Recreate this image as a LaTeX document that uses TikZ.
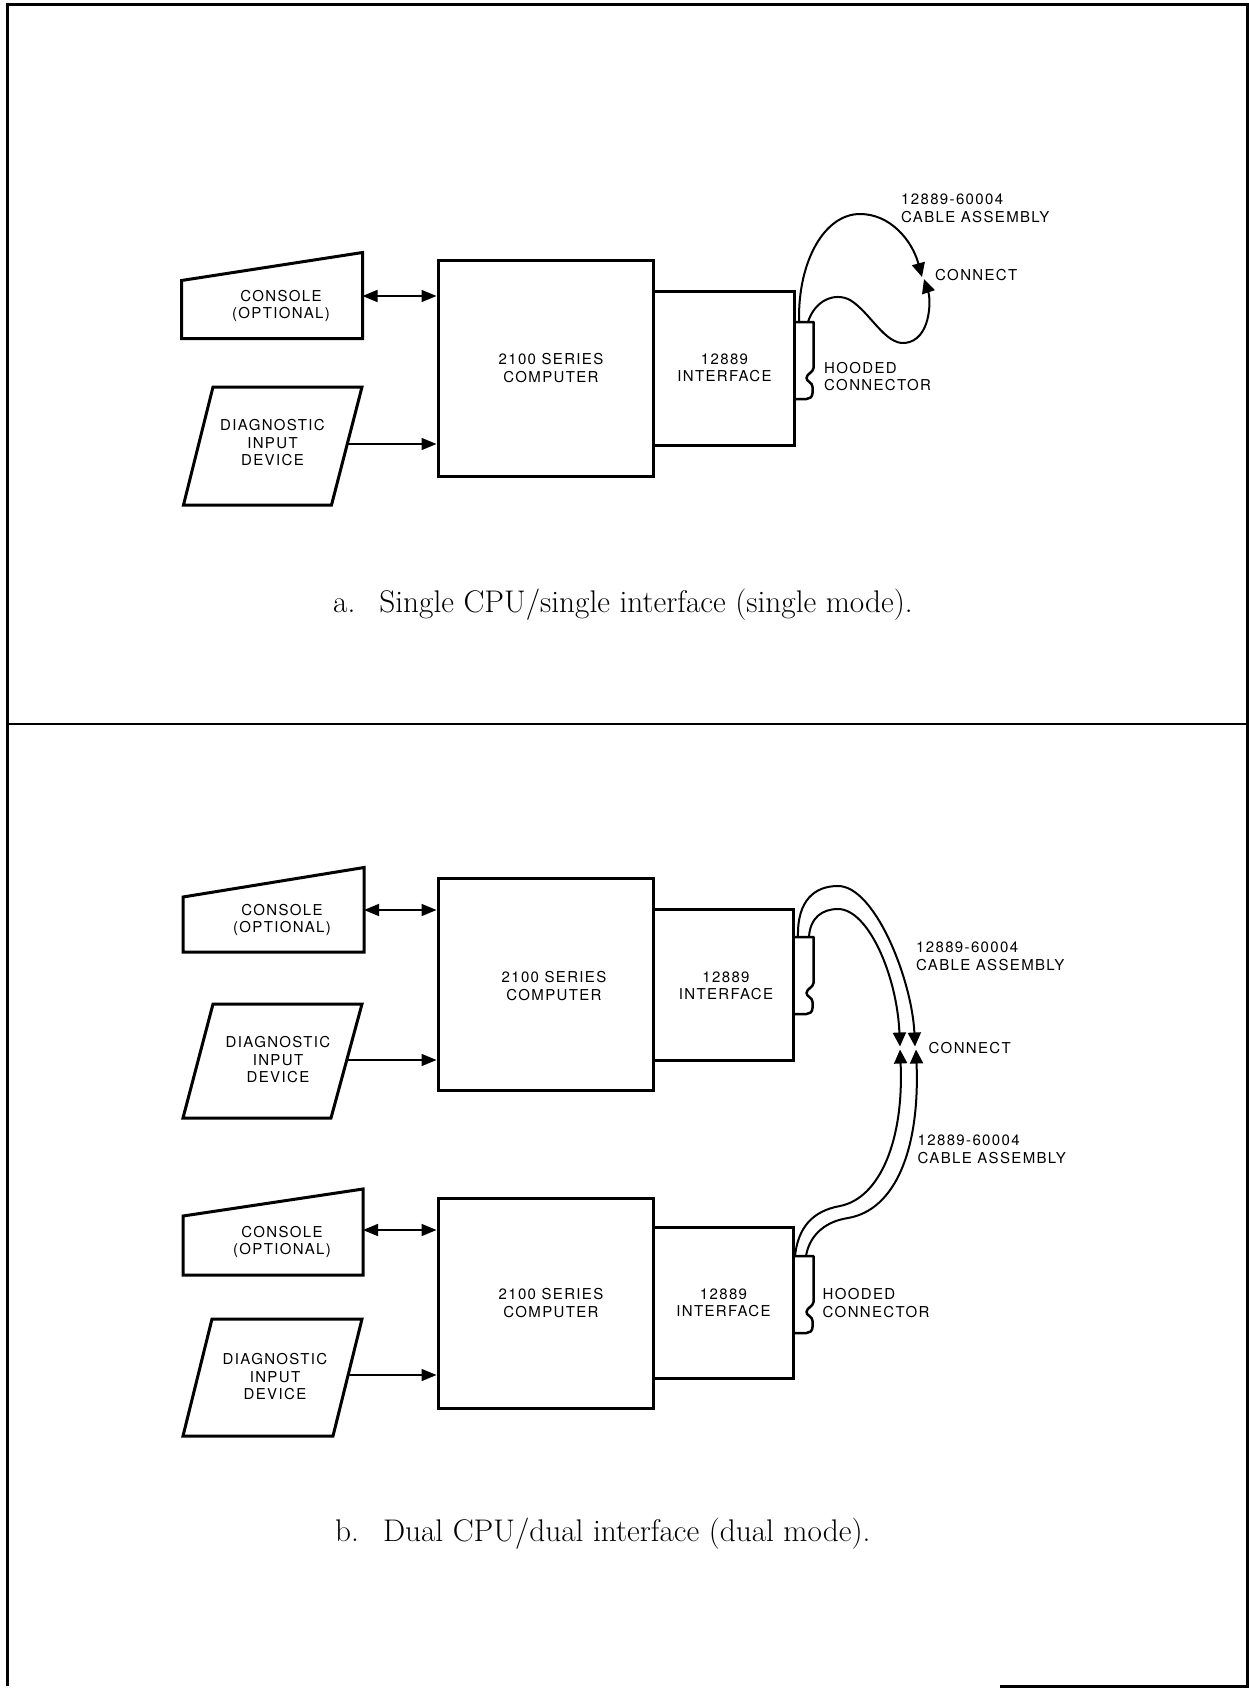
\documentclass[tikz,border=0pt]{standalone}
\usepackage{fontspec}
\newfontfamily\lblfont[LetterSpace=9]{TeX Gyre Heros}
\usetikzlibrary{arrows.meta,calc}
\tikzset{
  box/.style={draw, line width=3pt, inner sep=0pt},
  lbl/.style={font=\lblfont\fontsize{15}{17.5}\selectfont, align=center, inner sep=0pt},
  lblw/.style={lbl, align=left, anchor=west},
  capt/.style={font=\fontsize{31.3}{36}\selectfont, anchor=base west, inner sep=0pt},
  outline/.style={line width=3pt, line join=miter},
  uniarrow/.style={line width=1.6pt, -{Triangle[length=15pt,width=12pt]}},
  biarrow/.style={line width=1.6pt, {Triangle[length=15pt,width=12pt]}-{Triangle[length=15pt,width=12pt]}},
  cable/.style={line width=2pt},
  plugtip/.style={cable, -{Triangle[length=14pt,width=13pt]}},
  hood/.pic={\draw[line width=2.5pt, line join=round] (0,0) -- (20,0) -- (20,46)
     .. controls (20,50) and (13,52) .. (13,56) .. controls (13,60) and (19,60) .. (19,65)
     -- (19,71) .. controls (19,75) and (16,77) .. (13,77) -- (0,77);},
}
\begin{document}
\begin{tikzpicture}[x=1pt,y=-1pt]
\useasboundingbox (0,0) rectangle (1249,1688);
% frame
\draw[line width=3pt] (1000,1686) -- (1247.5,1686) -- (1247.5,5) -- (7,5) -- (7,1686);
\draw[line width=2.5pt] (7,724) -- (1247.5,724);

% ================= panel a =================
\node[box, minimum width=215.5pt, minimum height=215pt] (compA) at (545.75,368.5) {};
\node[box, minimum width=140.5pt, minimum height=153.5pt] (ifA) at (723.75,368.25) {};
\pic at (793.5,322) {hood};
\draw[outline] (181.5,280.5) -- (362.5,252.5) -- (362.5,338.5) -- (181.5,338.5) -- cycle;
\draw[outline] (213,387) -- (362,387) -- (331.5,505) -- (183.5,505) -- cycle;
\coordinate (conAe) at (362.5,296);
\coordinate (diaAe) at (347.3,444);
\draw[biarrow] (conAe) -- (conAe -| compA.west);
\draw[uniarrow] (diaAe) -- (diaAe -| compA.west);
\node[lbl] (conAt) at (281,306) {CONSOLE\\(OPTIONAL)};
\node[lbl] (diaAt) at (272.5,443) {DIAGNOSTIC\\INPUT\\DEVICE};
\node[lbl] (compAt) at (551,368) {2100 SERIES\\COMPUTER};
\node[lbl] (ifAt) at (724.5,368) {12889\\INTERFACE};
\coordinate (cabA1) at (799,321);
\coordinate (cabA2) at (808,322);
\coordinate (plugA1) at (922,277);
\coordinate (plugA2) at (924,279);
\draw[plugtip] (cabA1) .. controls (798,260) and (825,214) .. (860,214)
   .. controls (890,214) and (912,240) .. (plugA1);
\draw[plugtip] (cabA2) .. controls (815,300) and (835,292) .. (850,300)
   .. controls (870,312) and (885,345) .. (905,343)
   .. controls (931,340) and (931,300) .. (plugA2);
\node[lblw] (cabAt) at (901,208.5) {12889-60004\\CABLE ASSEMBLY};
\node[lblw] (connAt) at (935,275.5) {CONNECT};
\node[lblw] (hoodAt) at (824,376.5) {HOODED\\CONNECTOR};
\node[capt] (capA) at (333,612.5) {a.\hspace{24pt}Single CPU/single interface (single mode).};

% ================= panel b =================
\node[box, minimum width=215.5pt, minimum height=212pt] (compB) at (545.75,984.5) {};
\node[box, minimum width=140pt, minimum height=150.5pt] (ifB) at (723.5,984.75) {};
\pic at (793.5,937) {hood};
\draw[outline] (183,897) -- (364,867.5) -- (364,952) -- (183,952) -- cycle;
\draw[outline] (213,1004) -- (362,1004) -- (331,1118) -- (183,1118) -- cycle;
\coordinate (conBe) at (364,910);
\coordinate (diaBe) at (346.8,1060);
\draw[biarrow] (conBe) -- (conBe -| compB.west);
\draw[uniarrow] (diaBe) -- (diaBe -| compB.west);
\node[lbl] (conBt) at (282,920) {CONSOLE\\(OPTIONAL)};
\node[lbl] (diaBt) at (278,1060) {DIAGNOSTIC\\INPUT\\DEVICE};
\node[lbl] (compBt) at (554,986) {2100 SERIES\\COMPUTER};
\node[lbl] (ifBt) at (726,986) {12889\\INTERFACE};

\node[box, minimum width=215.5pt, minimum height=210pt] (compC) at (545.75,1303.5) {};
\node[box, minimum width=140pt, minimum height=150.5pt] (ifC) at (723.5,1302.75) {};
\pic at (793.5,1256) {hood};
\draw[outline] (183,1216) -- (363,1189) -- (363,1275) -- (183,1275) -- cycle;
\draw[outline] (212,1319) -- (362,1319) -- (333,1436) -- (183,1436) -- cycle;
\coordinate (conCe) at (363,1230);
\coordinate (diaCe) at (348,1375);
\draw[biarrow] (conCe) -- (conCe -| compC.west);
\draw[uniarrow] (diaCe) -- (diaCe -| compC.west);
\node[lbl] (conCt) at (282,1242) {CONSOLE\\(OPTIONAL)};
\node[lbl] (diaCt) at (275,1377) {DIAGNOSTIC\\INPUT\\DEVICE};
\node[lbl] (compCt) at (551,1303) {2100 SERIES\\COMPUTER};
\node[lbl] (ifCt) at (723.5,1303) {12889\\INTERFACE};

% cables panel b
\coordinate (cabB1) at (798,937);
\coordinate (cabB2) at (809,937);
\coordinate (plugB1) at (915,1046.5);
\coordinate (plugB2) at (900,1046.5);
\coordinate (plugC1) at (900,1049.5);
\coordinate (plugC2) at (916,1049.5);
\coordinate (cabC1) at (795,1256);
\coordinate (cabC2) at (806,1256);
\draw[plugtip] (cabB1) .. controls (797,900) and (815,886) .. (838,886)
   .. controls (875,886) and (912,980) .. (plugB1);
\draw[plugtip] (cabB2) .. controls (810,918) and (822,909) .. (838,909)
   .. controls (868,909) and (897,975) .. (plugB2);
\draw[plugtip] (cabC1) .. controls (798,1228) and (812,1211) .. (840,1206)
   .. controls (880,1198) and (904,1140) .. (plugC1);
\draw[plugtip] (cabC2) .. controls (809,1238) and (822,1222) .. (848,1218)
   .. controls (895,1210) and (920,1150) .. (plugC2);
\node[lblw] (cabBt) at (916,956.5) {12889-60004\\CABLE ASSEMBLY};
\node[lblw] (connBt) at (928.5,1048.5) {CONNECT};
\node[lblw] (cabCt) at (917.5,1149.5) {12889-60004\\CABLE ASSEMBLY};
\node[lblw] (hoodCt) at (822.5,1303) {HOODED\\CONNECTOR};
\node[capt] (capB) at (335,1541) {b.\hspace{24pt}Dual CPU/dual interface (dual mode).};
\end{tikzpicture}
\end{document}
